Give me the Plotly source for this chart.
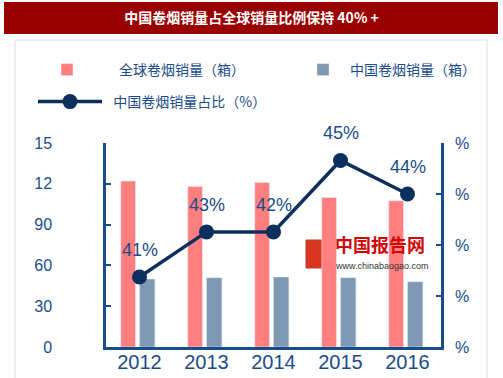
import plotly.graph_objects as go

years = ["2012", "2013", "2014", "2015", "2016"]
global_sales = [122, 118, 121, 110, 107.5]
china_sales = [50, 51, 51.5, 51, 48]
china_share = [41.0, 42.55, 42.55, 45.0, 43.85]
share_labels = ["41%", "43%", "42%", "45%", "44%"]
left_tickvals = [0, 30, 60, 90, 120, 150]
left_ticktext = ["0", "30", "60", "90", "12", "15"]
right_tickvals = [38.6, 40.35, 42.1, 43.85, 45.6]
right_ticktext = ["%", "%", "%", "%", "%"]
title_text = "中国卷烟销量占全球销量比例保持 40% +"
names = ["全球卷烟销量（箱）", "中国卷烟销量（箱）", "\u00a0\u00a0中国卷烟销量占比（%）"]

AX = "#1B4C8A"
NAVY = "#0C2F5E"
PINK = "#FF7F7F"
GREY = "#7F99B4"
CJK = "Noto Sans CJK SC"
LAT = "Arial, Liberation Sans, sans-serif"

W, H = 503, 378
L, R, T, B = 106, 62, 143, 31
pw, ph = W - L - R, H - T - B

def px(x):
    return (x - L) / pw

def py(y):
    return (H - B - y) / ph

fig = go.Figure()
fig.add_trace(go.Bar(x=years, y=global_sales, name=names[0], marker_color=PINK,
                     width=0.22, offset=-0.28, legend="legend"))
fig.add_trace(go.Bar(x=years, y=china_sales, name=names[1], marker_color=GREY,
                     width=0.23, offset=0.0, legend="legend2"))
fig.add_trace(go.Scatter(x=years, y=china_share, name=names[2], yaxis="y2",
                         mode="lines+markers", line=dict(color=NAVY, width=3.5),
                         marker=dict(color=NAVY, size=15), legend="legend3"))

for i, (v, t) in enumerate(zip(china_share, share_labels)):
    fig.add_annotation(x=i, y=v, xref="x", yref="y2", text=t, showarrow=False,
                       yshift=27, font=dict(family=LAT, size=18, color=AX))

# watermark
fig.add_annotation(x=px(333), y=py(259), xref="paper", yref="paper", text="<b>中国报告网</b>",
                   showarrow=False, xanchor="left", yanchor="bottom",
                   font=dict(family=CJK, size=18, color="#D00A0A"))
fig.add_annotation(x=px(333), y=py(259), xref="paper", yref="paper", text="www.chinabaogao.com",
                   showarrow=False, xanchor="left", yanchor="top",
                   font=dict(family=LAT, size=9, color="#333333"))

shapes = [
    dict(type="rect", xref="paper", yref="paper", x0=px(15), x1=px(487), y0=py(400), y1=py(40),
         line=dict(color="#DDDDDD", width=1), fillcolor="rgba(0,0,0,0)", layer="below"),
    dict(type="rect", xref="paper", yref="paper", x0=px(4), x1=px(498), y0=py(34), y1=py(2),
         line=dict(width=0), fillcolor="#990000", layer="below"),
    dict(type="rect", xref="paper", yref="paper", x0=px(306), x1=px(329), y0=py(268), y1=py(240),
         line=dict(color="#B04030", width=1), fillcolor="#D8361E", layer="below"),
]

legend_common = dict(orientation="v", bgcolor="rgba(0,0,0,0)", borderwidth=0,
                     xref="container", yref="container", xanchor="left", yanchor="middle",
                     font=dict(family=CJK, size=14, color=AX))

fig.update_layout(
    width=W, height=H,
    margin=dict(l=L, r=R, t=T, b=B, autoexpand=False),
    paper_bgcolor="white", plot_bgcolor="white",
    barmode="overlay",
    title=dict(text="<b>" + title_text + "</b>", x=0.5, xanchor="center", xref="container",
               yref="container", y=1 - 18 / H, yanchor="middle",
               font=dict(family=CJK, size=14, color="white")),
    shapes=shapes,
    showlegend=True,
    legend=dict(**legend_common, x=15 / W, y=1 - 70 / H, itemwidth=94),
    legend2=dict(**legend_common, x=296 / W, y=1 - 70 / H, itemwidth=44),
    legend3=dict(**legend_common, x=33 / W, y=1 - 102 / H, itemwidth=64),
    xaxis=dict(type="category", range=[-0.5, 4.5], showline=True, linecolor=AX, linewidth=2.5,
               ticks="", showgrid=False, zeroline=False, automargin=False,
               ticklabelstandoff=-5,
               tickfont=dict(family=LAT, size=20, color=AX)),
    yaxis=dict(range=[0, 150], tickvals=left_tickvals, ticktext=left_ticktext,
               showline=True, linecolor=AX, linewidth=2.5, ticks="inside", ticklen=5,
               tickwidth=2, tickcolor=AX, showgrid=False, zeroline=False, automargin=False,
               ticklabelstandoff=48, tickfont=dict(family=LAT, size=16, color=AX)),
    yaxis2=dict(range=[38.6, 45.6], overlaying="y", side="right", tickvals=right_tickvals,
                ticktext=right_ticktext, showline=True, linecolor=AX, linewidth=2.5,
                ticks="inside", ticklen=5, tickwidth=2, tickcolor=AX, showgrid=False,
                zeroline=False, ticklabelstandoff=8, automargin=False,
                tickfont=dict(family=LAT, size=16, color=AX)),
)

fig.write_html("out.html", config={"displayModeBar": False},
               post_script="document.body.style.margin='0';")
